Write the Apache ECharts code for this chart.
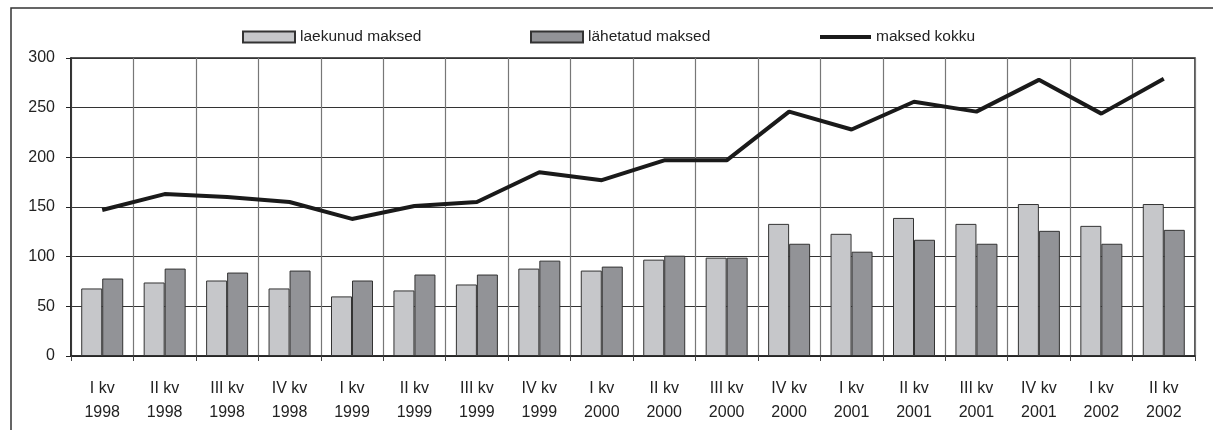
<!DOCTYPE html>
<html>
<head>
<meta charset="utf-8">
<script src="https://cdn.jsdelivr.net/npm/echarts@6/dist/echarts.min.js"></script>
<style>
html,body{margin:0;padding:0;background:#fff;}
#chart{width:1213px;height:430px;}
</style>
</head>
<body>
<div id="chart"></div>
<script>
var quarters = ['I kv','II kv','III kv','IV kv','I kv','II kv','III kv','IV kv','I kv','II kv','III kv','IV kv','I kv','II kv','III kv','IV kv','I kv','II kv'];
var years = ['1998','1998','1998','1998','1999','1999','1999','1999','2000','2000','2000','2000','2001','2001','2001','2001','2002','2002'];
var laekunud = [68,74,76,68,60,66,72,88,86,97,99,133,123,139,133,153,131,153];
var lahetatud = [78,88,84,86,76,82,82,96,90,101,99,113,105,117,113,126,113,127];
var kokku = [147,163,160,155,138,151,155,185,177,197,197,246,228,256,246,278,244,279];
var yTicks = [0,50,100,150,200,250,300];

var categories = quarters.map(function(q,i){ return q + '\n' + years[i]; });
var font = "'Liberation Sans', Arial, sans-serif";

var chart = echarts.init(document.getElementById('chart'), null, {renderer:'canvas'});
chart.setOption({
  animation: false,
  backgroundColor: '#ffffff',
  textStyle: { fontFamily: font },
  graphic: [{
    type: 'rect',
    shape: { x: 11, y: 8, width: 1400, height: 600 },
    style: { fill: 'none', stroke: '#333', lineWidth: 1.5 },
    silent: true
  }],
  legend: [
    { left: 237, top: 24, itemWidth: 52, itemHeight: 11, data: ['laekunud maksed'],
      textStyle: { fontSize: 15.5, color: '#222', fontFamily: font }, icon: 'rect' },
    { left: 525, top: 24, itemWidth: 52, itemHeight: 11, data: ['lähetatud maksed'],
      textStyle: { fontSize: 15.5, color: '#222', fontFamily: font }, icon: 'rect' },
    { left: 815, top: 24, itemWidth: 51, itemHeight: 4, data: ['maksed kokku'],
      textStyle: { fontSize: 15.5, color: '#222', fontFamily: font }, icon: 'rect',
      itemStyle: { color: '#1a1a1a' } }
  ],
  grid: {
    left: 71, right: 18, top: 58, bottom: 74,
    show: true, borderColor: '#222', borderWidth: 1.5, backgroundColor: 'transparent'
  },
  xAxis: {
    type: 'category',
    data: categories,
    boundaryGap: true,
    axisLine: { lineStyle: { color: '#222', width: 1.5 } },
    axisTick: { show: true, interval: 0, length: 5, lineStyle: { color: '#444' } },
    splitLine: { show: true, interval: 0, lineStyle: { color: '#777', width: 1.2 } },
    axisLabel: { interval: 0, margin: 21, fontSize: 16, lineHeight: 24, color: '#222', fontFamily: font }
  },
  yAxis: {
    type: 'value',
    min: 0, max: 300, interval: 50,
    axisLine: { show: true, lineStyle: { color: '#222', width: 1.5 } },
    axisTick: { show: true, length: 5, lineStyle: { color: '#222' } },
    splitLine: { show: true, lineStyle: { color: '#333', width: 1 } },
    axisLabel: { margin: 16, fontSize: 16, color: '#222', fontFamily: font,
      formatter: function(v){ return yTicks.indexOf(v) >= 0 ? String(v) : ''; } }
  },
  series: [
    { name: 'laekunud maksed', type: 'bar', data: laekunud, barWidth: 21, barGap: '0%',
      itemStyle: { color: '#c6c7ca', borderColor: '#333', borderWidth: 1 } },
    { name: 'lähetatud maksed', type: 'bar', data: lahetatud, barWidth: 21, barGap: '0%',
      itemStyle: { color: '#929397', borderColor: '#333', borderWidth: 1 } },
    { name: 'maksed kokku', type: 'line', data: kokku, symbol: 'none', z: 5,
      lineStyle: { color: '#1a1a1a', width: 4 }, itemStyle: { color: '#1a1a1a' } }
  ]
});
</script>
</body>
</html>
